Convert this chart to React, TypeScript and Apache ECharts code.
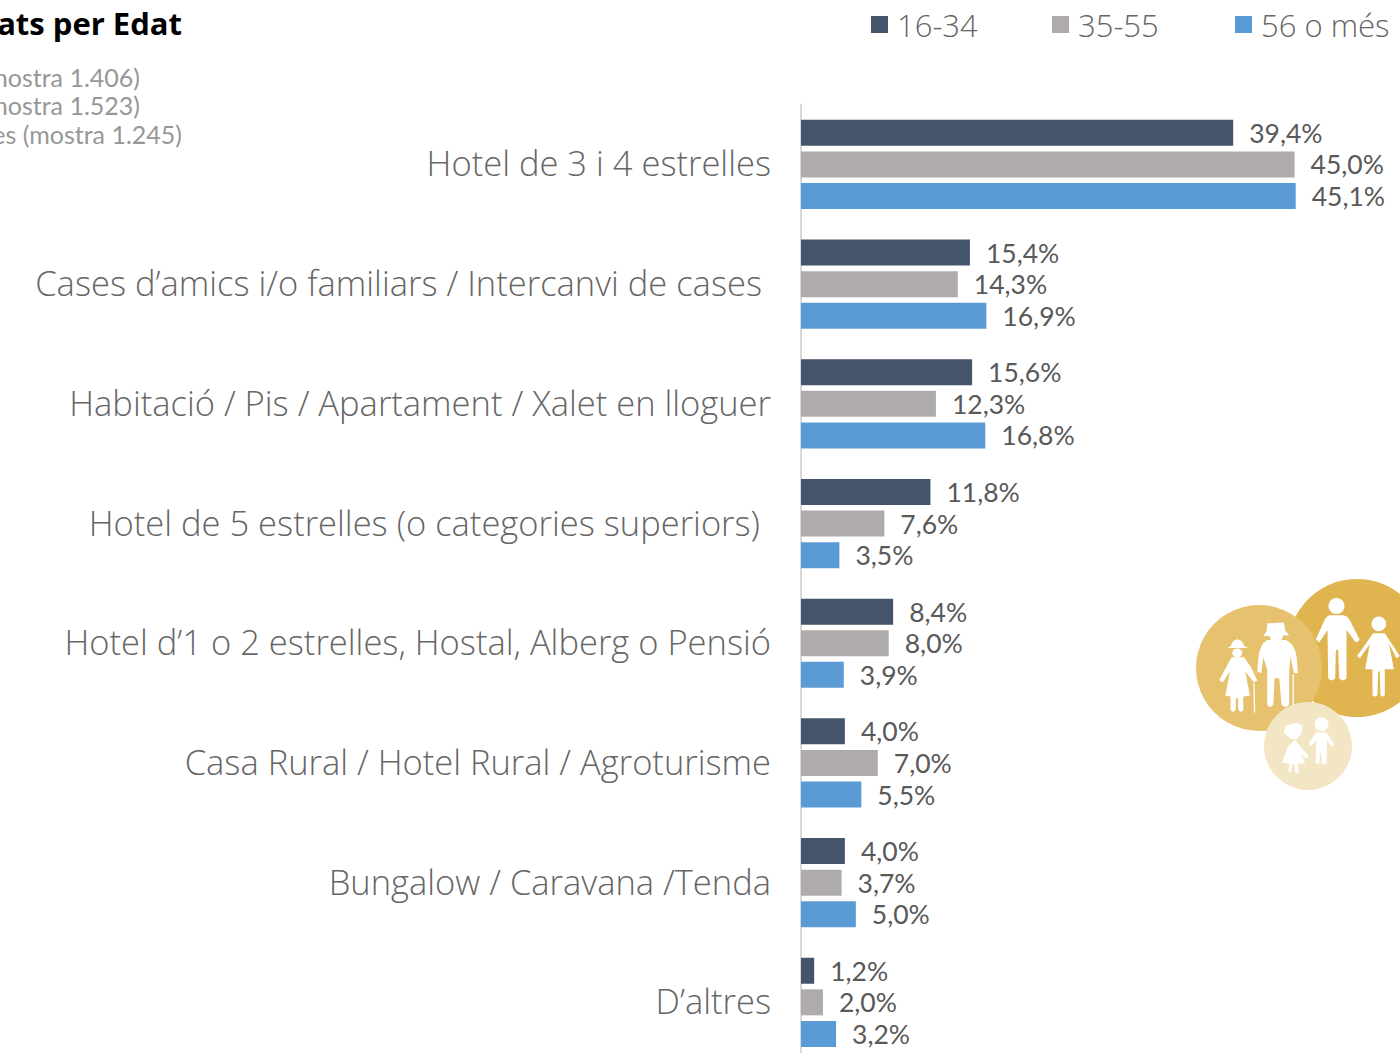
import React, { useEffect, useRef } from "react";
import * as echarts from "echarts";

const categories = [
  "Hotel de 3 i 4 estrelles",
  "Cases d’amics i/o familiars / Intercanvi de cases",
  "Habitació / Pis / Apartament / Xalet en lloguer",
  "Hotel de 5 estrelles (o categories superiors)",
  "Hotel d’1 o 2 estrelles, Hostal, Alberg o Pensió",
  "Casa Rural / Hotel Rural / Agroturisme",
  "Bungalow / Caravana /Tenda",
  "D’altres",
];
const labelGaps = [0, 9, 0, 11, 0, 0, 0, 0];
const young = [39.4, 15.4, 15.6, 11.8, 8.4, 4.0, 4.0, 1.2];
const middle = [45.0, 14.3, 12.3, 7.6, 8.0, 7.0, 3.7, 2.0];
const senior = [45.1, 16.9, 16.8, 3.5, 3.9, 5.5, 5.0, 3.2];
const seriesNames = ["16-34", "35-55", "56 o més"];
const legendLeft = [866, 1047, 1230];
const colors = ["#44546A", "#AFABAB", "#5B9BD5"];
const sampleLines = ["mostra 1.406)", "mostra 1.523)", "es (mostra 1.245)"];
const sampleRight = [140, 140, 182];
const sampleY = [77, 105, 134];
const FONT = "Open Sans";
const NUM_FONT = "Lato";

const D_MAN = "M448 136 L492 136 Q505 140 512 155 L540 210 L528 218 L500 180 L500 325 Q490 338 478 325 L475 240 L468 240 L466 325 Q455 338 445 325 L443 180 L418 218 L408 208 L432 155 Q438 140 448 136 Z M470 84 A24 24 0 1 1 469.9 84 Z";
const D_WOMAN = "M580 190 L615 190 L660 258 L650 265 L628 222 L642 298 L615 298 L615 375 Q608 385 602 375 L600 305 L595 305 L593 375 Q585 385 578 375 L578 298 L556 298 L570 222 L540 265 L532 258 Z M597 140 A22 22 0 1 1 596.9 140 Z";
const D_OLDW = "M155 262 L192 262 L212 290 L232 332 L222 338 L196 305 L210 378 L190 380 L190 420 Q183 432 175 420 L174 385 L168 385 L167 420 Q160 432 152 420 L152 380 L136 378 L150 305 L128 338 L118 330 Z M172 208 Q190 212 192 228 L205 234 L143 234 L153 228 Q155 212 172 208 Z M172 236 A15 13 0 0 1 172 262 A15 13 0 0 1 172 236 Z";
const D_OLDM = "M262 210 L318 210 Q345 222 350 260 L354 310 L342 310 L332 260 L328 300 L328 405 Q318 418 305 405 L298 325 L284 325 L280 405 Q270 418 262 405 L262 300 L250 262 L244 310 L232 305 L236 260 Q240 222 262 210 Z M262 160 L312 158 L316 182 L328 196 L250 198 L260 184 Z M268 196 L310 196 L304 212 L274 212 Z M338 312 L342 312 L342 408 L338 408 Z M220 340 L224 340 L226 428 L222 428 Z";
const D_GIRL = "M345 510 L362 530 L388 560 L378 566 L364 552 L376 580 L354 582 L356 608 L346 610 L344 584 L336 584 L334 608 L326 606 L328 582 L306 578 L325 530 Z M340 462 Q352 455 368 468 L364 490 L350 510 L330 505 L312 488 L318 466 Z";
const D_BOY = "M408 488 L440 488 L464 524 L454 530 L442 512 L440 582 L426 582 L423 540 L418 582 L408 580 L408 512 L394 530 L386 522 Z M425 442 A21 21 0 1 1 424.9 442 Z";

export default function App() {
  const ref = useRef<HTMLDivElement>(null);
  useEffect(() => {
    echarts.graphic.registerShape("man", echarts.graphic.extendPath(D_MAN, {}));
    echarts.graphic.registerShape("woman", echarts.graphic.extendPath(D_WOMAN, {}));
    echarts.graphic.registerShape("oldw", echarts.graphic.extendPath(D_OLDW, {}));
    echarts.graphic.registerShape("oldm", echarts.graphic.extendPath(D_OLDM, {}));
    echarts.graphic.registerShape("girl", echarts.graphic.extendPath(D_GIRL, {}));
    echarts.graphic.registerShape("boy", echarts.graphic.extendPath(D_BOY, {}));
    const chart = echarts.init(ref.current!, undefined, { renderer: "svg" });
    const rich: any = {};
    labelGaps.forEach((g, i) => {
      rich["c" + i] = { fontFamily: FONT, fontSize: 34.5, fontWeight: 300, color: "#666666", padding: [0, g, 3, 0] };
    });
    const mkSeries = (name: string, data: number[], color: string) => ({
      type: "bar",
      name,
      data,
      barWidth: 26,
      barGap: "21.5%",
      itemStyle: { color },
      label: {
        show: true,
        position: "right",
        distance: 16,
        fontFamily: NUM_FONT,
        fontSize: 26.5,
        color: "#595959",
        formatter: (p: any) => p.value.toFixed(1).replace(".", ",") + "%",
      },
    });
    const icon = (t: string) => ({
      type: t,
      x: 1180,
      y: 570,
      scaleX: 1 / 3,
      scaleY: 1 / 3,
      style: { fill: "#FFFFFF" },
      z: 20,
    });
    chart.setOption({
      animation: false,
      backgroundColor: "#FFFFFF",
      legend: seriesNames.map((n, i) => ({
        left: legendLeft[i],
        top: 4,
        itemWidth: 17,
        itemHeight: 17,
        icon: "rect",
        textStyle: { fontFamily: FONT, fontWeight: 300, fontSize: 31, color: "#666666", padding: [0, 0, 0, 4] },
        data: [n],
      })),
      grid: { left: 801, top: 104.6, width: 600, height: 957.6, outerBoundsMode: "none" },
      xAxis: { type: "value", min: 0, max: 54.7, show: false },
      yAxis: {
        type: "category",
        inverse: true,
        offset: 1,
        data: categories,
        axisTick: { show: false },
        axisLine: { show: true, lineStyle: { color: "#D9D9D9", width: 2 } },
        axisLabel: {
          margin: 29,
          formatter: (v: string) => `{c${categories.indexOf(v)}|${v}}`,
          rich,
        },
      },
      series: [
        mkSeries(seriesNames[0], young, colors[0]),
        mkSeries(seriesNames[1], middle, colors[1]),
        mkSeries(seriesNames[2], senior, colors[2]),
      ],
      graphic: [
        { type: "text", x: 182, y: 23, style: { text: "ats per Edat", fontFamily: FONT, fontWeight: "bold", fontSize: 31, fill: "#000000", align: "right", verticalAlign: "middle" } },
        ...sampleLines.map((s, i) => ({
          type: "text",
          x: sampleRight[i],
          y: sampleY[i],
          style: { text: s, fontFamily: NUM_FONT, fontSize: 25, fill: "#979797", align: "right", verticalAlign: "middle" },
        })),
        { type: "circle", shape: { cx: 1357, cy: 648, r: 69 }, style: { fill: "#E0B44F" }, z: 10 },
        { type: "circle", shape: { cx: 1259, cy: 668, r: 63 }, style: { fill: "#E6C26E" }, z: 11 },
        { type: "circle", shape: { cx: 1308, cy: 746, r: 44 }, style: { fill: "#F3E6C4" }, z: 12 },
        ...["man", "woman", "oldw", "oldm", "girl", "boy"].map(icon),
      ],
    });
    return () => chart.dispose();
  }, []);
  return <div ref={ref} style={{ position: "absolute", left: 0, top: 0, width: 1400, height: 1053 }} />;
}
